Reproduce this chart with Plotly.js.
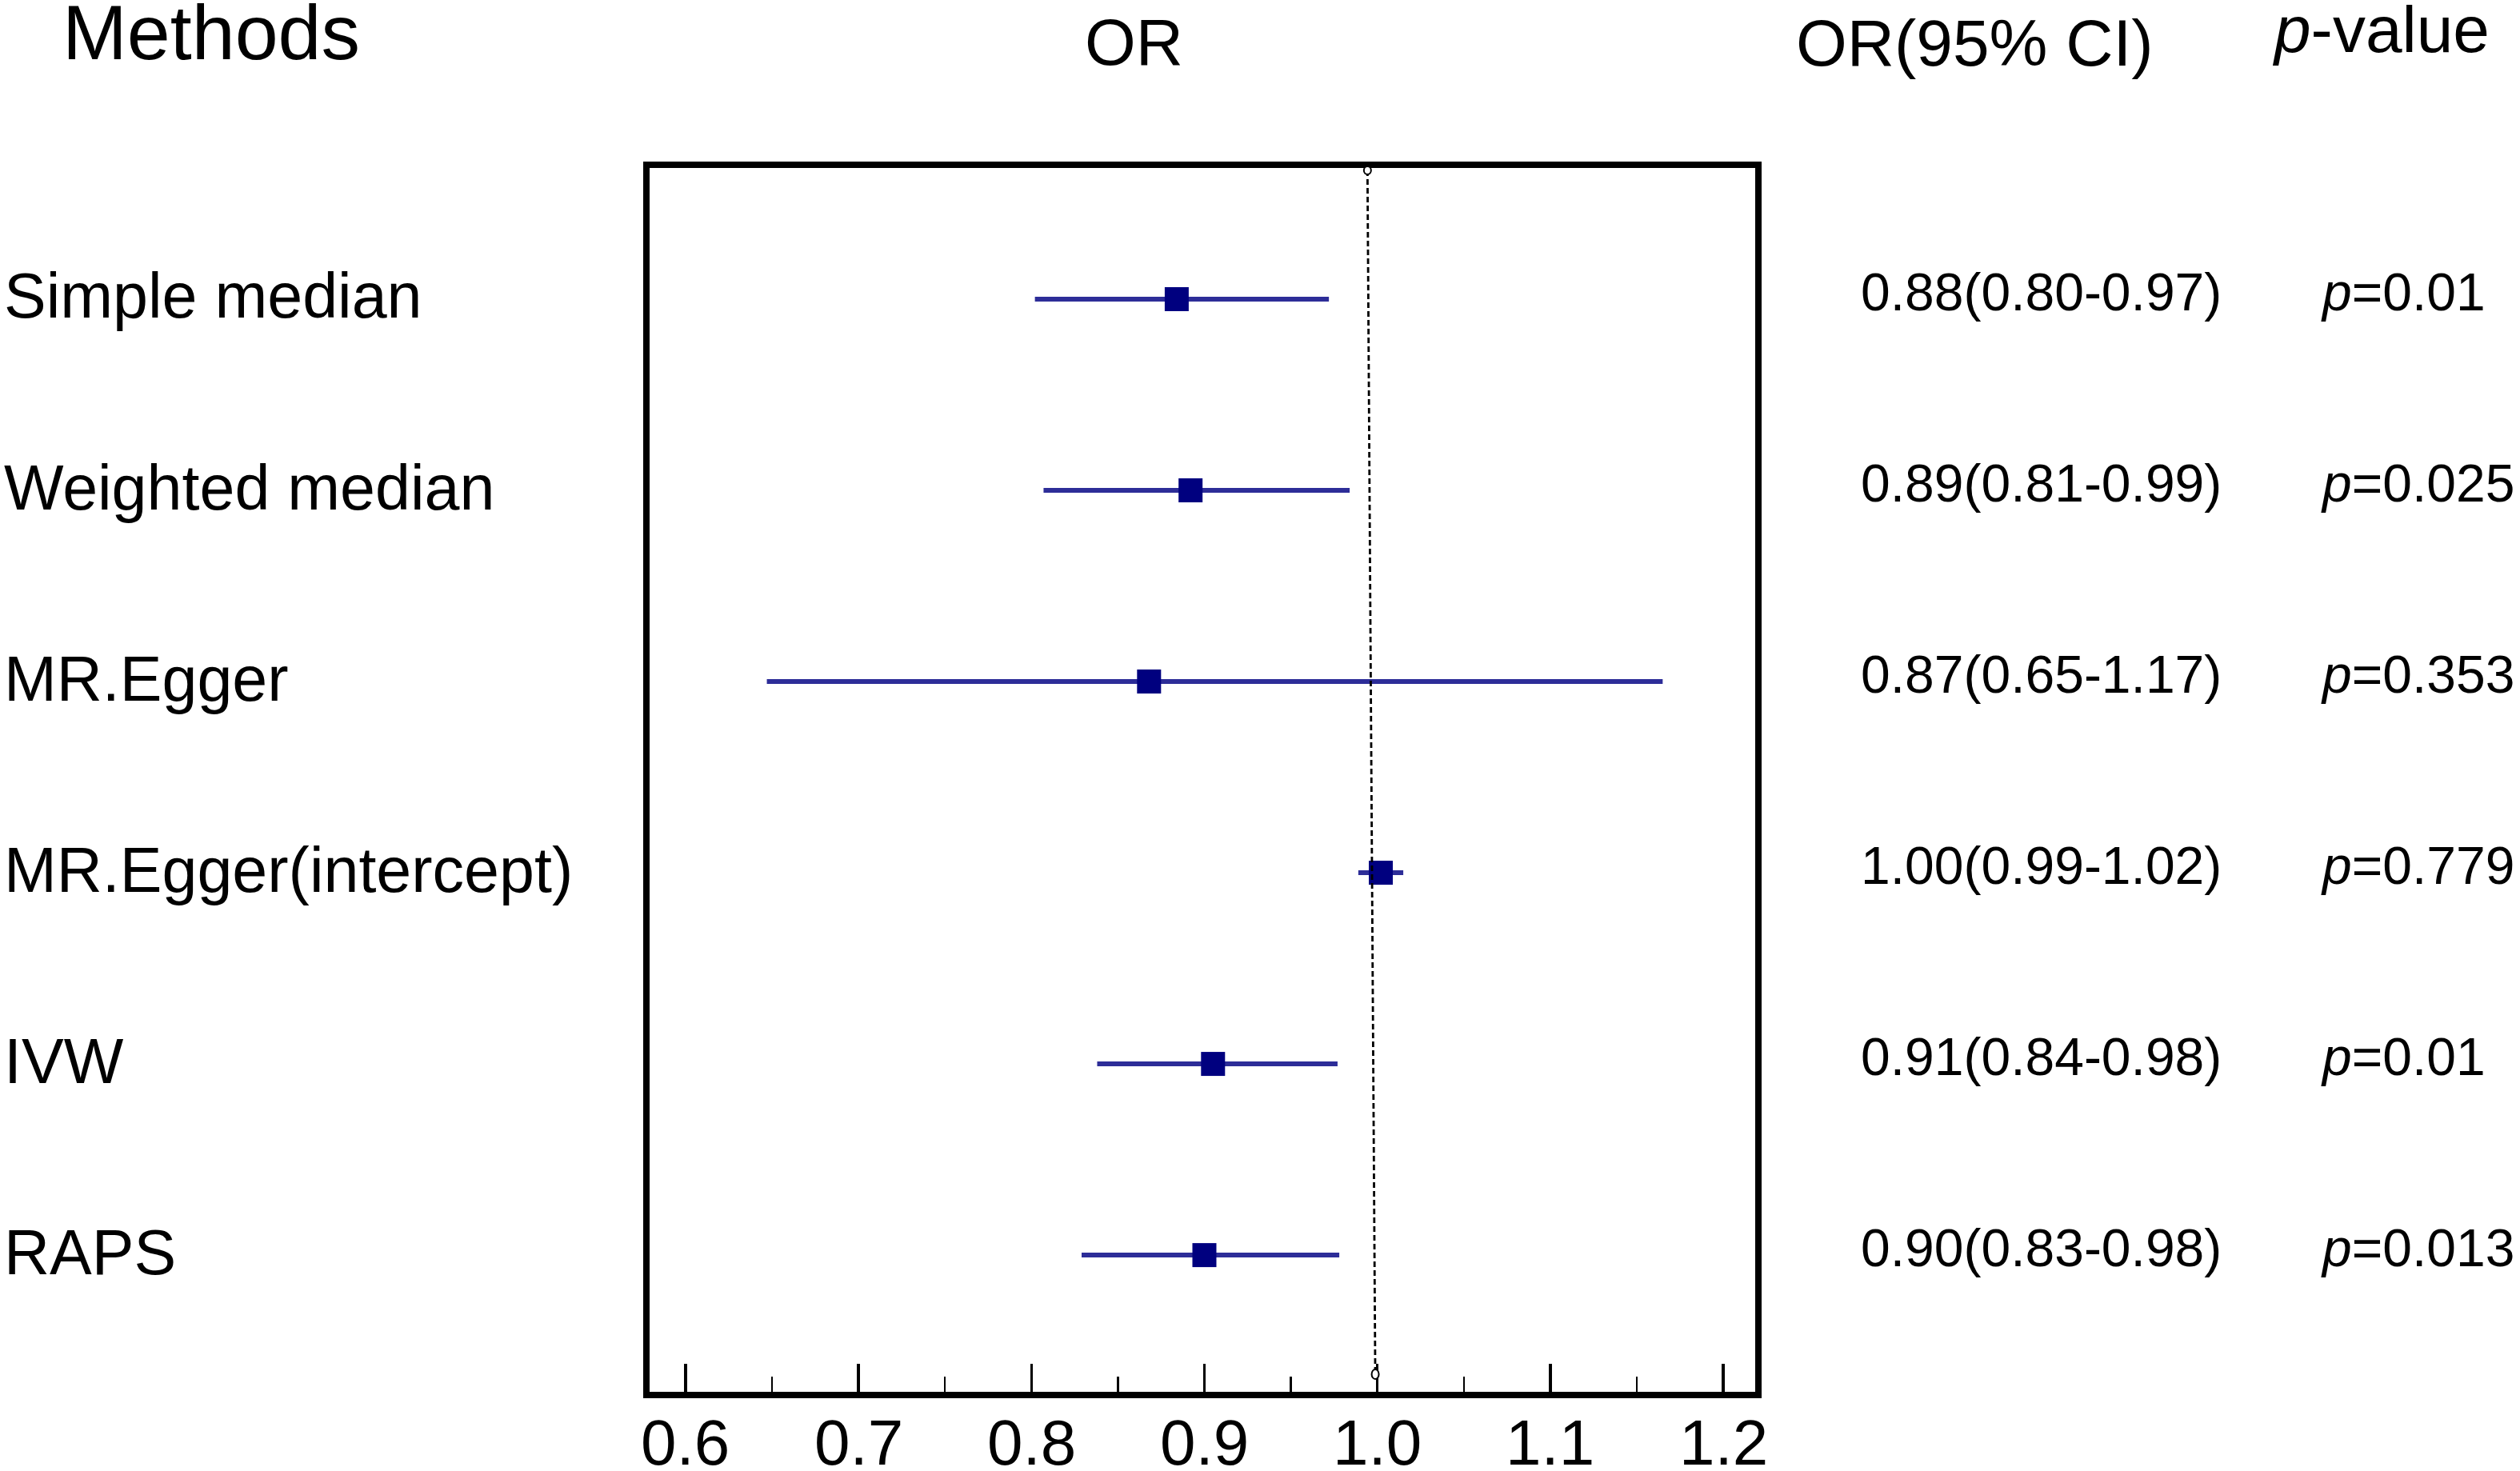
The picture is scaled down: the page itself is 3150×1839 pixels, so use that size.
<!DOCTYPE html>
<html>
<head>
<meta charset="utf-8">
<script src="https://cdn.plot.ly/plotly-3.0.1.min.js"></script>
<style>
  html, body { margin: 0; padding: 0; background: #ffffff; }
  #chart { width: 3150px; height: 1839px; }
</style>
</head>
<body>
<div id="chart"></div>
<script>
// ---------------- data ----------------
const methods = ["Simple median", "Weighted median", "MR.Egger", "MR.Egger(intercept)", "IVW", "RAPS"];
const orValue = [0.884, 0.892, 0.868, 1.002, 0.905, 0.900];
const ciLower = [0.802, 0.807, 0.647, 0.989, 0.838, 0.829];
const ciUpper = [0.972, 0.984, 1.165, 1.015, 0.977, 0.978];
const orCiText = ["0.88(0.80-0.97)", "0.89(0.81-0.99)", "0.87(0.65-1.17)", "1.00(0.99-1.02)", "0.91(0.84-0.98)", "0.90(0.83-0.98)"];
const pValueText = ["0.01", "0.025", "0.353", "0.779", "0.01", "0.013"];
const xTickVals = [0.6, 0.7, 0.8, 0.9, 1.0, 1.1, 1.2];
const xTickText = ["0.6", "0.7", "0.8", "0.9", "1.0", "1.1", "1.2"];
const headers = { methods: "Methods", or: "OR", orci: "OR(95% CI)", p: "<i>p</i>-value" };
const refOR = 1.0;
const xRange = [0.5792, 1.2185];
const xMinorDtick = 0.05;

// ---------------- layout geometry (pixels) ----------------
const W = 3150, H = 1839;
const M = { l: 812, r: 956, t: 210, b: 99 };
const PW = W - M.l - M.r, PH = H - M.t - M.b;
const px2x = px => (px - M.l) / PW;
const py2y = py => (H - M.b - py) / PH;

const FONT = "Liberation Sans, Arial, sans-serif";
const rows = methods.map((_, i) => i + 1);

const trace = {
  type: "scatter",
  mode: "markers",
  x: orValue,
  y: rows,
  error_x: {
    type: "data",
    symmetric: false,
    array: orValue.map((v, i) => ciUpper[i] - v),
    arrayminus: orValue.map((v, i) => v - ciLower[i]),
    color: "#2D2D98",
    thickness: 6,
    width: 0
  },
  marker: { symbol: "square", size: 30, color: "#00007F", line: { width: 0 } },
  hoverinfo: "skip",
  showlegend: false
};

const annotations = [];
// headers
annotations.push({ xref: "paper", yref: "paper", x: px2x(76), y: py2y(41), xanchor: "left", yanchor: "middle",
  text: headers.methods, showarrow: false, font: { family: FONT, size: 97, color: "#000" } });
annotations.push({ xref: "paper", yref: "paper", x: px2x(1417), y: py2y(53), xanchor: "center", yanchor: "middle",
  text: headers.or, showarrow: false, font: { family: FONT, size: 82, color: "#000" } });
annotations.push({ xref: "paper", yref: "paper", x: px2x(2243), y: py2y(54), xanchor: "left", yanchor: "middle",
  text: headers.orci, showarrow: false, font: { family: FONT, size: 82, color: "#000" } });
annotations.push({ xref: "paper", yref: "paper", x: px2x(2838), y: py2y(37), xanchor: "left", yanchor: "middle",
  text: headers.p, showarrow: false, font: { family: FONT, size: 82, color: "#000" } });

methods.forEach((m, i) => {
  annotations.push({ xref: "paper", yref: "y", x: px2x(3), y: rows[i], yshift: 4, xanchor: "left", yanchor: "middle",
    text: m, showarrow: false, font: { family: FONT, size: 79, color: "#000" } });
  annotations.push({ xref: "paper", yref: "y", x: px2x(2551), y: rows[i], yshift: 9, xanchor: "center", yanchor: "middle",
    text: orCiText[i], showarrow: false, font: { family: FONT, size: 66, color: "#000" } });
  annotations.push({ xref: "paper", yref: "y", x: px2x(2899), y: rows[i], yshift: 9, xanchor: "left", yanchor: "middle",
    text: "<i>p</i>=" + pValueText[i], showarrow: false, font: { family: FONT, size: 66, color: "#000" } });
});

// x tick labels (drawn as text so they sit where the reference has them)
xTickVals.forEach((v, i) => {
  annotations.push({ xref: "x", yref: "paper", x: v, y: py2y(1803), xanchor: "center", yanchor: "middle",
    text: xTickText[i], showarrow: false, font: { family: FONT, size: 80, color: "#000" } });
});

// reference line at OR = 1 (slightly skewed in the source image)
const skewTop = -0.0057, skewBottom = -0.0012;
const yTop = py2y(213), yBot = py2y(1718);
const shapes = [
  { type: "line", layer: "above", xref: "x", yref: "paper",
    x0: refOR + skewTop, x1: refOR + skewBottom, y0: yTop, y1: yBot,
    line: { color: "#000", width: 2.8, dash: "7px,4px" } },
  { type: "circle", layer: "above", xref: "x", yref: "paper", xsizemode: "pixel", ysizemode: "pixel",
    xanchor: refOR + skewTop, yanchor: yTop, x0: -4.5, x1: 4.5, y0: -5, y1: 5,
    fillcolor: "#fff", line: { color: "#000", width: 2 } },
  { type: "circle", layer: "above", xref: "x", yref: "paper", xsizemode: "pixel", ysizemode: "pixel",
    xanchor: refOR + skewBottom, yanchor: yBot, x0: -4.5, x1: 4.5, y0: -6, y1: 6,
    fillcolor: "#fff", line: { color: "#000", width: 2 } }
];

const layout = {
  width: W, height: H,
  margin: M,
  paper_bgcolor: "#fff",
  plot_bgcolor: "#fff",
  showlegend: false,
  xaxis: {
    range: xRange,
    tickmode: "array", tickvals: xTickVals, ticktext: xTickText,
    showticklabels: false,
    ticks: "inside", ticklen: 35, tickwidth: 3.5, tickcolor: "#000",
    minor: { dtick: xMinorDtick, ticks: "inside", ticklen: 19, tickwidth: 2.5, tickcolor: "#000", showgrid: false },
    showline: true, linewidth: 8, linecolor: "#000", mirror: true,
    showgrid: false, zeroline: false,
    fixedrange: true
  },
  yaxis: {
    range: [6.715, 0.314],
    showticklabels: false, ticks: "",
    showline: true, linewidth: 8, linecolor: "#000", mirror: true,
    showgrid: false, zeroline: false,
    fixedrange: true
  },
  annotations: annotations,
  shapes: shapes
};

Plotly.newPlot("chart", [trace], layout, { displayModeBar: false, staticPlot: true });
</script>
</body>
</html>
